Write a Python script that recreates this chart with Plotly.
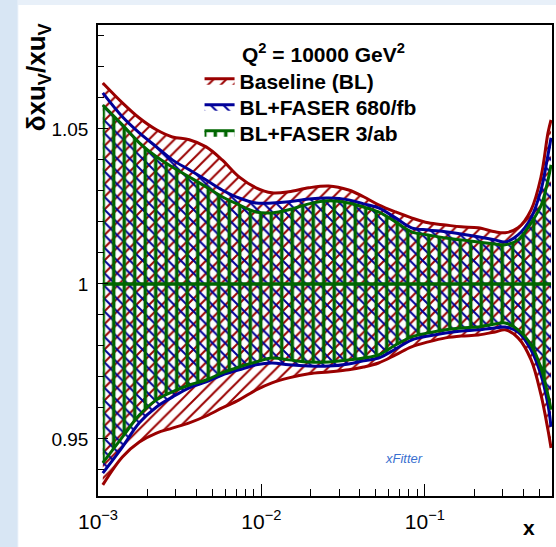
import plotly.graph_objects as go

# ---------------- data ----------------
x_vals = [0.00107, 0.00141, 0.00179, 0.00228, 0.00285, 0.00362, 0.00459, 0.00575,
          0.0073, 0.00927, 0.0116, 0.0147, 0.0195, 0.0258, 0.0342, 0.0422, 0.0521,
          0.0662, 0.0829, 0.105, 0.134, 0.167, 0.212, 0.269, 0.31, 0.372, 0.447,
          0.514, 0.567, 0.592]

bl_upper = [1.0648, 1.0584, 1.0535, 1.0497, 1.0474, 1.0465, 1.0442, 1.0400, 1.0345,
            1.0310, 1.0294, 1.0297, 1.0310, 1.0316, 1.0303, 1.0281, 1.0255, 1.0232,
            1.0213, 1.0197, 1.0190, 1.0184, 1.0181, 1.0168, 1.0165, 1.0181, 1.0239,
            1.0345, 1.0487, 1.0529]
bl_lower = [0.9352, 0.9442, 0.9490, 0.9519, 0.9535, 0.9552, 0.9574, 0.9600, 0.9626,
            0.9658, 0.9681, 0.9697, 0.9710, 0.9716, 0.9723, 0.9732, 0.9745, 0.9771,
            0.9797, 0.9813, 0.9826, 0.9832, 0.9835, 0.9845, 0.9852, 0.9826, 0.9755,
            0.9642, 0.9529, 0.9471]

f680_upper = [1.0616, 1.0539, 1.0487, 1.0442, 1.0400, 1.0368, 1.0335, 1.0303, 1.0277,
              1.0261, 1.0261, 1.0265, 1.0274, 1.0277, 1.0271, 1.0258, 1.0245, 1.0213,
              1.0181, 1.0174, 1.0168, 1.0161, 1.0152, 1.0142, 1.0135, 1.0158, 1.0213,
              1.0303, 1.0416, 1.0471]
f680_lower = [0.9390, 0.9474, 0.9552, 0.9603, 0.9635, 0.9665, 0.9684, 0.9706, 0.9723,
              0.9739, 0.9745, 0.9739, 0.9735, 0.9735, 0.9742, 0.9752, 0.9761, 0.9790,
              0.9819, 0.9832, 0.9842, 0.9848, 0.9852, 0.9858, 0.9861, 0.9845, 0.9787,
              0.9706, 0.9610, 0.9539]

f3ab_upper = [1.0577, 1.0513, 1.0455, 1.0410, 1.0377, 1.0345, 1.0313, 1.0281, 1.0255,
              1.0232, 1.0229, 1.0239, 1.0258, 1.0268, 1.0261, 1.0248, 1.0232, 1.0200,
              1.0168, 1.0158, 1.0148, 1.0142, 1.0135, 1.0129, 1.0126, 1.0142, 1.0197,
              1.0252, 1.0335, 1.0384]
f3ab_lower = [0.9423, 0.9506, 0.9577, 0.9626, 0.9652, 0.9674, 0.9690, 0.9713, 0.9732,
              0.9748, 0.9761, 0.9755, 0.9748, 0.9748, 0.9755, 0.9761, 0.9771, 0.9803,
              0.9829, 0.9842, 0.9852, 0.9858, 0.9861, 0.9871, 0.9874, 0.9852, 0.9803,
              0.9729, 0.9642, 0.9594]

central = [1.0] * len(x_vals)

series_names = ["Baseline (BL)", "BL+FASER 680/fb", "BL+FASER 3/ab"]
x_tick_vals = [0.001, 0.01, 0.1]
x_tick_text = ["10<sup>\u22123</sup>", "10<sup>\u22122</sup>", "10<sup>\u22121</sup>"]
x_minor_vals = [m * d for d in (0.001, 0.01, 0.1) for m in range(2, 10) if m * d < 0.6]
y_tick_vals = [0.95, 1.0, 1.05]
y_tick_text = ["0.95", "1", "1.05"]

# ---------------- styles ----------------
RED = "#9a0000"
BLUE = "#000099"
GREEN = "#006600"
FONT = "Liberation Sans, Arial, Helvetica, sans-serif"

fig = go.Figure()

bands = [
    (bl_lower, bl_upper, RED, "/", 9, 0.22, series_names[0], "legend"),
    (f680_lower, f680_upper, BLUE, "\\", 9, 0.22, series_names[1], "legend2"),
    (f3ab_lower, f3ab_upper, GREEN, "|", 10.5, 0.33, series_names[2], "legend3"),
]
for lo, up, col, shape, size, sol, name, leg in bands:
    fig.add_trace(go.Scatter(x=x_vals, y=lo, mode="lines",
                             line=dict(color=col, width=3, shape="spline"),
                             showlegend=False, hoverinfo="skip"))
    fig.add_trace(go.Scatter(x=x_vals, y=up, mode="lines", fill="tonexty",
                             line=dict(color=col, width=3, shape="spline"),
                             fillcolor="rgba(0,0,0,0)",
                             fillpattern=dict(shape=shape, fgcolor=col,
                                              bgcolor="rgba(0,0,0,0)",
                                              size=size, solidity=sol,
                                              fillmode="replace"),
                             name=name, legend=leg, hoverinfo="skip"))

fig.add_trace(go.Scatter(x=x_vals, y=central, mode="lines",
                         line=dict(color=GREEN, width=3.5),
                         showlegend=False, hoverinfo="skip"))

# ---------------- background panels ----------------
fig.add_shape(type="rect", xref="paper", yref="paper", layer="below",
              x0=-0.25, x1=-0.1776, y0=-0.2, y1=1.1,
              fillcolor="#d8e6f4", line=dict(width=0))
fig.add_shape(type="rect", xref="paper", yref="paper", layer="below",
              x0=-0.1754, x1=1.01, y0=-0.2, y1=1.0425,
              fillcolor="white", line=dict(width=0))

# ---------------- text ----------------
fig.add_annotation(xref="paper", yref="paper", x=(241 - 98) / 456, y=(496 - 53) / 471,
                   xanchor="left", yanchor="middle", showarrow=False,
                   text="Q<sup>2</sup> = 10000 GeV<sup>2</sup>",
                   font=dict(family=FONT, size=21, color="black", weight="bold"))
fig.add_annotation(xref="paper", yref="paper", x=(37 - 98) / 456, y=(496 - 21) / 471,
                   xanchor="center", yanchor="top", showarrow=False, textangle=-90,
                   text="\u03b4xu<sub>V</sub>/xu<sub>V</sub>",
                   font=dict(family=FONT, size=26, color="black", weight="bold"))
fig.add_annotation(xref="paper", yref="paper", x=(531 - 98) / 456, y=(496 - 527) / 471,
                   xanchor="center", yanchor="middle", showarrow=False,
                   text="x",
                   font=dict(family=FONT, size=21, color="black", weight="bold"))
fig.add_annotation(xref="paper", yref="paper", x=(405 - 98) / 456, y=(496 - 458) / 471,
                   xanchor="center", yanchor="middle", showarrow=False,
                   text="<i>xFitter</i>",
                   font=dict(family=FONT, size=13, color="#3a6fd0"))

legend_style = dict(xanchor="left", yanchor="middle", bgcolor="rgba(0,0,0,0)",
                    borderwidth=0, itemwidth=30,
                    font=dict(family=FONT, size=21, color="black", weight="bold"))
lx = (200 - 98) / 456

fig.update_layout(
    width=556, height=547,
    margin=dict(l=98, r=2, t=25, b=51),
    paper_bgcolor="#e8f0f9",
    plot_bgcolor="white",
    font=dict(family=FONT, color="black"),
    legend=dict(x=lx, y=(496 - 81) / 471, **legend_style),
    legend2=dict(x=lx, y=(496 - 107) / 471, **legend_style),
    legend3=dict(x=lx, y=(496 - 133) / 471, **legend_style),
    xaxis=dict(type="log", range=[-3, -0.2218],
               tickvals=x_tick_vals, ticktext=x_tick_text,
               ticks="inside", ticklen=12, tickwidth=1.2, tickcolor="black",
               minor=dict(tickvals=x_minor_vals, ticks="inside", ticklen=7,
                          tickwidth=1.2, tickcolor="black"),
               showgrid=False, zeroline=False,
               showline=True, linecolor="black", linewidth=1.5, mirror=True,
               tickfont=dict(family=FONT, size=21, color="black"),
               ticklabelstandoff=6),
    yaxis=dict(range=[0.9316, 1.0835],
               tickvals=y_tick_vals, ticktext=y_tick_text,
               ticks="inside", ticklen=10, tickwidth=1.2, tickcolor="black",
               minor=dict(dtick=0.01, tick0=0.9, ticks="inside", ticklen=6,
                          tickwidth=1.2, tickcolor="black"),
               showgrid=False, zeroline=False,
               showline=True, linecolor="black", linewidth=1.5, mirror=True,
               tickfont=dict(family=FONT, size=19, color="black"),
               ticklabelstandoff=4),
)

fig.write_html("out.html")
